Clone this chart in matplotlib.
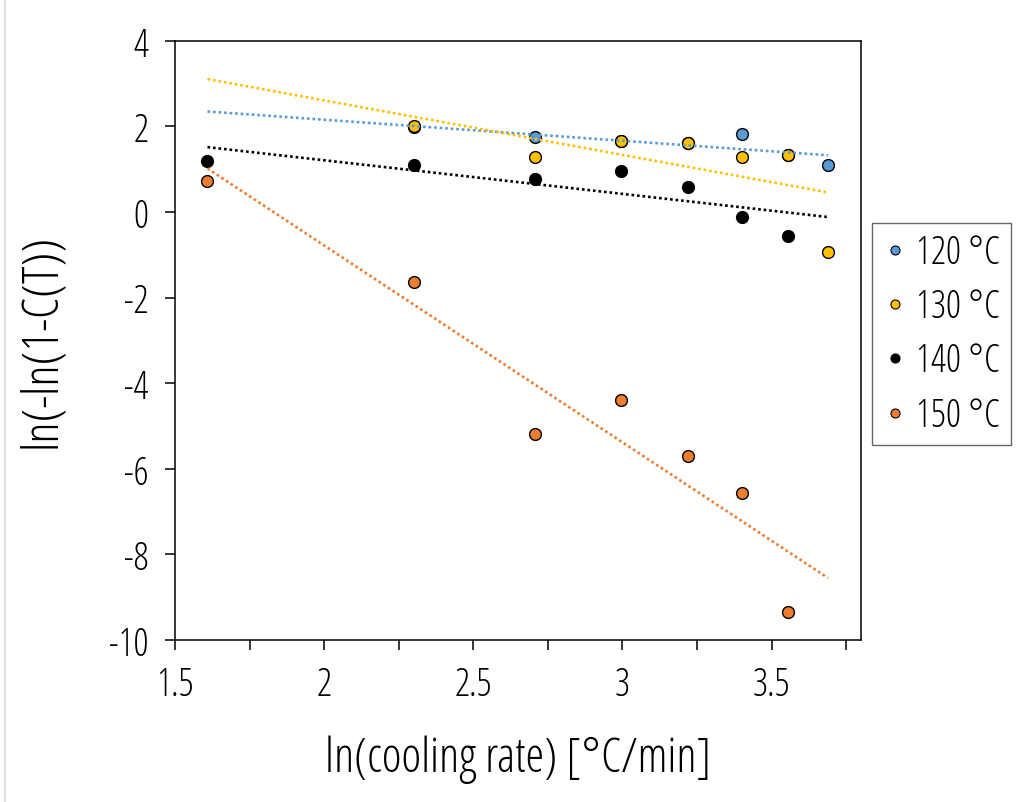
import numpy as np
import matplotlib
matplotlib.use("Agg")
import matplotlib.pyplot as plt
from matplotlib.lines import Line2D

plt.rcParams['font.family'] = ['Open Sans', 'DejaVu Sans']
plt.rcParams['font.stretch'] = 'condensed'

# ln(cooling rate) for 5, 10, 15, 20, 25, 30, 35, 40 °C/min
ln_rate = [1.609, 2.303, 2.708, 2.996, 3.219, 3.401, 3.555, 3.689]

# ln(-ln(1-C(T))) per isothermal temperature
x_120 = [2.303, 2.708, 2.996, 3.219, 3.401, 3.555, 3.689]
y_120 = [1.98, 1.74, 1.65, 1.60, 1.82, 1.33, 1.10]

x_130 = [2.303, 2.708, 2.996, 3.219, 3.401, 3.555, 3.689]
y_130 = [2.02, 1.28, 1.65, 1.60, 1.28, 1.33, -0.93]

x_140 = [1.609, 2.303, 2.708, 2.996, 3.219, 3.401, 3.555]
y_140 = [1.19, 1.10, 0.77, 0.95, 0.58, -0.11, -0.57]

x_150 = [1.609, 2.303, 2.708, 2.996, 3.219, 3.401, 3.555]
y_150 = [0.72, -1.63, -5.19, -4.40, -5.69, -6.57, -9.34]

labels = ["120 °C", "130 °C", "140 °C", "150 °C"]
colors = ["#5B9BD5", "#FFC000", "#000000", "#ED7D31"]

series = [(x_120, y_120), (x_130, y_130), (x_140, y_140), (x_150, y_150)]

fig = plt.figure(figsize=(10.25, 8.03), dpi=100)
ax = fig.add_axes([0.1707, 0.2017, 0.6693, 0.7463])

# scatter points
for (xs, ys), c in zip(series, colors):
    ax.plot(xs, ys, linestyle="none", marker="o", markersize=8.5,
            markerfacecolor=c, markeredgecolor="black", markeredgewidth=1.0,
            zorder=3)

# linear trend lines spanning the full cooling-rate range
x_fit = np.array([min(ln_rate), max(ln_rate)])
for (xs, ys), c in zip(series, colors):
    k, b = np.polyfit(xs, ys, 1)
    ax.plot(x_fit, k * x_fit + b, linestyle=(0, (1, 1.1)), color=c,
            linewidth=1.9, zorder=4)

ax.set_xlim(1.5, 3.8)
ax.set_ylim(-10, 4)
ax.set_xticks([1.5, 2.0, 2.5, 3.0, 3.5])
ax.set_xticklabels(["1.5", "2", "2.5", "3", "3.5"])
ax.set_xticks(np.arange(1.75, 3.8, 0.5), minor=True)
ax.set_yticks(range(-10, 5, 2))
ax.set_yticklabels([str(v) for v in range(-10, 5, 2)])

ax.tick_params(axis="both", which="both", direction="out", length=7,
               width=1.1, labelsize=27, color="black")
ax.tick_params(axis="x", pad=11)
ax.tick_params(axis="y", pad=12)
for s in ax.spines.values():
    s.set_linewidth(1.1)
    s.set_color("black")

ax.set_xlabel("ln(cooling rate) [°C/min]", fontsize=34, labelpad=22)
ax.set_ylabel("ln(-ln(1-C(T))", fontsize=36, labelpad=30)

handles = [Line2D([], [], linestyle="none", marker="o", markersize=6.5,
                  markerfacecolor=c, markeredgecolor="black",
                  markeredgewidth=0.8) for c in colors]
leg = fig.legend(handles, labels, loc="upper left",
                 bbox_to_anchor=(872 / 1025, 1 - 224 / 803),
                 fontsize=27, frameon=True, fancybox=False,
                 handlelength=0.68, handletextpad=0.22, labelspacing=0.42,
                 borderpad=0.28, borderaxespad=0)
leg.get_frame().set_edgecolor("#404040")
leg.get_frame().set_linewidth(1.0)

# thin frame line at the left edge of the canvas
fig.add_artist(Line2D([0.005, 0.005], [0, 1], transform=fig.transFigure,
                      color="#d9d9d9", linewidth=1.2))

fig.savefig("out.png", dpi=100)
